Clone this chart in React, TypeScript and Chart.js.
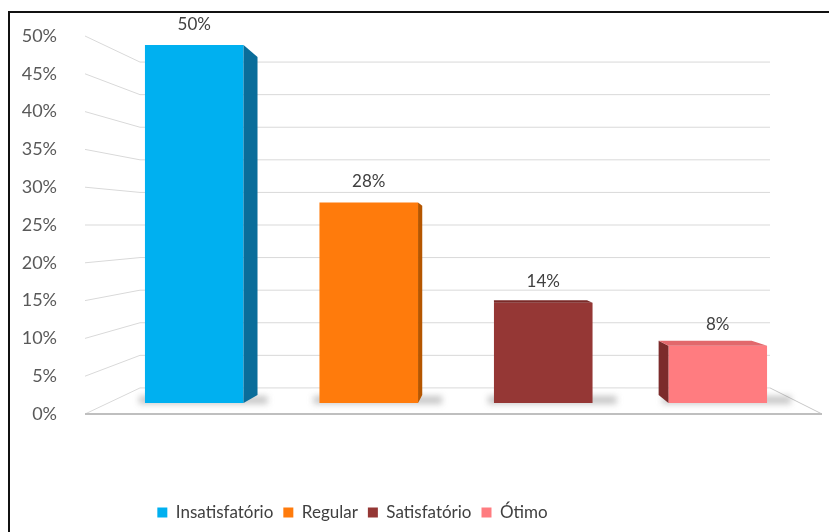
import React, { useEffect, useRef } from "react";
import { Chart, registerables } from "chart.js";

Chart.register(...registerables);

const CATEGORIES = ["Insatisfatório", "Regular", "Satisfatório", "Ótimo"];
const VALUES = [50, 28, 14, 8];
const VALUE_LABELS = ["50%", "28%", "14%", "8%"];
const Y_MIN = 0;
const Y_MAX = 50;
const Y_STEP = 5;

const FRONT_COLORS = ["#00b0f0", "#ff7b0c", "#953735", "#ff7c80"];
const SIDE_COLORS = ["#0a6d9a", "#b55600", "#5e2120", "#7c2b2b"];
const TOP_COLORS = ["#0a8cc5", "#d96400", "#7a2a28", "#e2686c"];

const FONT = "Lato, 'Open Sans', sans-serif";
const TEXT = "#404040";

// 3D perspective helpers (relative to chart area)
const VP_DX = 386;
const VP_DY = 223;
const DEPTH_K = 0.944;
const WALL_LEFT_OUT = 22;
const WALL_LEFT_IN = 33;
const WALL_RIGHT_IN = 35;
const FLOOR_RIGHT_OUT = 17;
const LEGEND_SHIFT = -50;

const threeD = {
  id: "threeD",
  beforeDatasetsDraw(chart: any) {
    const { ctx, chartArea } = chart;
    const yL = chart.scales.y;
    const yW = chart.scales.yWall;
    const x0 = chartArea.left - WALL_LEFT_OUT;
    const x1 = chartArea.left + WALL_LEFT_IN;
    const x2 = chartArea.right - WALL_RIGHT_IN;
    const x3 = chartArea.right + FLOOR_RIGHT_OUT;
    ctx.save();
    ctx.strokeStyle = "#d9d9d9";
    ctx.lineWidth = 1;
    for (let v = Y_MIN; v <= Y_MAX; v += Y_STEP) {
      const pl = yL.getPixelForValue(v);
      const pw = yW.getPixelForValue(v);
      ctx.beginPath();
      ctx.moveTo(x0, pl);
      ctx.lineTo(x1, pw);
      ctx.lineTo(x2, pw);
      ctx.stroke();
    }
    // floor
    const fb = yL.getPixelForValue(0);
    const fw = yW.getPixelForValue(0);
    ctx.strokeStyle = "#c8c8c8";
    ctx.beginPath();
    ctx.moveTo(x2, fw);
    ctx.lineTo(x3, fb);
    ctx.stroke();
    ctx.strokeStyle = "#bfbfbf";
    ctx.lineWidth = 2;
    ctx.beginPath();
    ctx.moveTo(x0, fb);
    ctx.lineTo(x3, fb);
    ctx.stroke();
    // bar shadows
    const meta = chart.getDatasetMeta(0);
    meta.data.forEach((el: any) => {
      const { x, base, width } = el.getProps(["x", "base", "width"], true);
      ctx.save();
      ctx.filter = "blur(3px)";
      ctx.fillStyle = "rgba(70,70,70,0.3)";
      ctx.fillRect(x - width / 2 - 6, base - 7, width + 30, 8);
      ctx.restore();
    });
    ctx.restore();
  },
  afterDatasetsDraw(chart: any) {
    const { ctx, chartArea } = chart;
    const vx = chartArea.left + VP_DX;
    const vy = chartArea.top + VP_DY;
    const bx = (p: number) => vx + (p - vx) * DEPTH_K;
    const by = (p: number) => vy + (p - vy) * DEPTH_K;
    const meta = chart.getDatasetMeta(0);
    ctx.save();
    meta.data.forEach((el: any, i: number) => {
      const { x, y, base, width } = el.getProps(["x", "y", "base", "width"], true);
      const L = x - width / 2;
      const R = x + width / 2;
      const T = y;
      const B = base;
      const bL = bx(L), bR = bx(R), bT = by(T), bB = by(B);
      ctx.fillStyle = SIDE_COLORS[i];
      if (bR > R + 0.5) {
        ctx.beginPath();
        ctx.moveTo(R, T);
        ctx.lineTo(bR, bT);
        ctx.lineTo(bR, bB);
        ctx.lineTo(R, B);
        ctx.closePath();
        ctx.fill();
      }
      if (bL < L - 0.5) {
        ctx.beginPath();
        ctx.moveTo(L, T);
        ctx.lineTo(bL, bT);
        ctx.lineTo(bL, bB);
        ctx.lineTo(L, B);
        ctx.closePath();
        ctx.fill();
      }
      if (bT < T - 0.5) {
        ctx.fillStyle = TOP_COLORS[i];
        ctx.beginPath();
        ctx.moveTo(L, T);
        ctx.lineTo(R, T);
        ctx.lineTo(bR, bT);
        ctx.lineTo(bL, bT);
        ctx.closePath();
        ctx.fill();
      }
      ctx.fillStyle = TEXT;
      ctx.font = `17px ${FONT}`;
      ctx.textAlign = "center";
      ctx.textBaseline = "middle";
      ctx.fillText(VALUE_LABELS[i], x, T - 21);
    });
    ctx.restore();
  },
  afterLayout(chart: any) {
    const l = chart.legend;
    if (l) {
      l.left += LEGEND_SHIFT;
      l.right += LEGEND_SHIFT;
    }
  },
};

export default function App() {
  const ref = useRef<HTMLCanvasElement | null>(null);
  useEffect(() => {
    if (!ref.current) return;
    const chart = new Chart(ref.current, {
      type: "bar",
      data: {
        labels: CATEGORIES,
        datasets: [
          {
            data: VALUES,
            backgroundColor: FRONT_COLORS,
            yAxisID: "yBar",
            categoryPercentage: 1,
            barPercentage: 0.565,
          },
        ],
      },
      options: {
        animation: false,
        responsive: false,
        maintainAspectRatio: false,
        layout: { padding: { top: 36, right: 24, bottom: 1, left: 0 } },
        plugins: {
          tooltip: { enabled: false },
          legend: {
            position: "bottom",
            labels: {
              boxWidth: 10,
              boxHeight: 10,
              padding: 10,
              color: TEXT,
              font: { family: FONT, size: 17 },
              generateLabels: () =>
                CATEGORIES.map((c, i) => ({
                  text: c,
                  fillStyle: FRONT_COLORS[i],
                  strokeStyle: FRONT_COLORS[i],
                  lineWidth: 0,
                  hidden: false,
                  index: i,
                  fontColor: TEXT,
                })),
            },
            onClick: () => {},
          },
        },
        scales: {
          x: {
            display: true,
            grid: { display: false },
            border: { display: false },
            ticks: { display: false },
            afterFit: (s: any) => {
              s.height = 80;
            },
          },
          y: {
            position: "left",
            min: Y_MIN,
            max: Y_MAX,
            grid: { display: false },
            border: { display: false },
            ticks: {
              stepSize: Y_STEP,
              padding: 42,
              color: "#595959",
              font: { family: FONT, size: 18 },
              callback: (v: any) => `${v}%`,
            },
            afterFit: (s: any) => {
              s.width = 107;
              s.paddingTop = 10;
              s.paddingBottom = 10;
            },
          },
          yBar: {
            display: false,
            min: -1.54,
            max: 51.26,
          },
          yWall: {
            display: false,
            min: -4,
            max: 54,
          },
        },
      },
      plugins: [threeD],
    });
    return () => chart.destroy();
  }, []);
  return (
    <div style={{ position: "fixed", left: 0, top: 0, width: 829, height: 532, background: "#fff" }}>
      <canvas ref={ref} width={829} height={532} style={{ position: "absolute", left: 0, top: 0 }} />
      <div
        style={{
          position: "absolute",
          left: 8,
          top: 11,
          right: 0,
          bottom: 0,
          borderLeft: "2.5px solid #111",
          borderTop: "2.5px solid #111",
          pointerEvents: "none",
        }}
      />
    </div>
  );
}
